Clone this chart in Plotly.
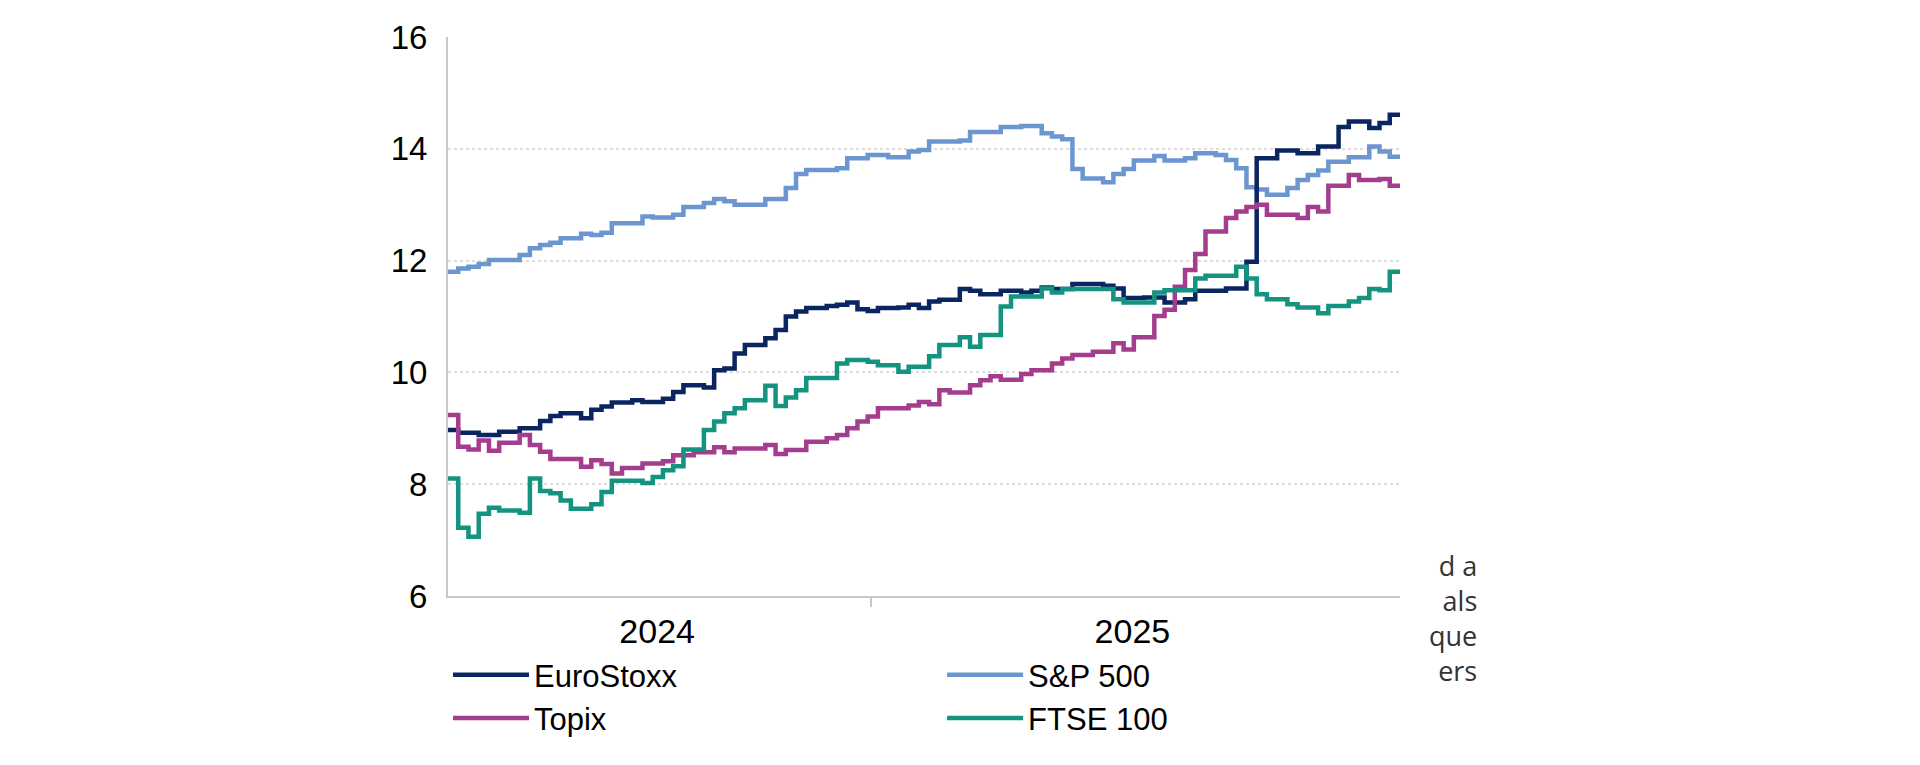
import pandas as pd
import plotly.graph_objects as go

# weekly observations
dates = pd.date_range("2024-03-18", periods=94, freq="7D")

eurostoxx = [8.97, 8.92, 8.92, 8.88, 8.88, 8.94, 8.94, 9.00, 9.00, 9.13,
             9.22, 9.27, 9.27, 9.18, 9.33, 9.39, 9.46, 9.46, 9.50, 9.47,
             9.47, 9.53, 9.65, 9.77, 9.77, 9.73, 10.04, 10.07, 10.34, 10.49,
             10.49, 10.61, 10.76, 11.00, 11.09, 11.15, 11.15, 11.19, 11.21, 11.25,
             11.13, 11.10, 11.15, 11.15, 11.16, 11.21, 11.15, 11.27, 11.30, 11.30,
             11.49, 11.46, 11.40, 11.40, 11.46, 11.46, 11.43, 11.46, 11.52, 11.49,
             11.49, 11.58, 11.58, 11.58, 11.55, 11.50, 11.33, 11.33, 11.34, 11.34,
             11.25, 11.25, 11.31, 11.46, 11.46, 11.46, 11.50, 11.50, 11.98, 13.83,
             13.83, 13.97, 13.97, 13.92, 13.92, 14.04, 14.04, 14.39, 14.49, 14.49,
             14.37, 14.46, 14.61, 14.61]

sp500 = [11.80, 11.86, 11.89, 11.94, 12.01, 12.01, 12.01, 12.10, 12.22, 12.28,
         12.32, 12.40, 12.40, 12.48, 12.46, 12.50, 12.67, 12.67, 12.67, 12.79,
         12.77, 12.77, 12.82, 12.96, 12.96, 13.03, 13.10, 13.06, 13.00, 13.00,
         13.00, 13.10, 13.10, 13.30, 13.55, 13.62, 13.62, 13.62, 13.65, 13.83,
         13.83, 13.89, 13.89, 13.85, 13.85, 13.95, 13.98, 14.13, 14.13, 14.13,
         14.15, 14.30, 14.30, 14.30, 14.39, 14.39, 14.41, 14.41, 14.28, 14.22,
         14.17, 13.64, 13.47, 13.47, 13.40, 13.55, 13.64, 13.79, 13.79, 13.87,
         13.79, 13.79, 13.83, 13.92, 13.92, 13.89, 13.80, 13.65, 13.31, 13.27,
         13.18, 13.18, 13.30, 13.44, 13.53, 13.61, 13.77, 13.77, 13.85, 13.85,
         14.04, 13.95, 13.86, 13.86]

topix = [9.24, 8.67, 8.62, 8.78, 8.60, 8.74, 8.74, 8.88, 8.70, 8.58,
         8.45, 8.45, 8.45, 8.31, 8.43, 8.36, 8.19, 8.29, 8.29, 8.37,
         8.37, 8.41, 8.52, 8.52, 8.57, 8.57, 8.66, 8.57, 8.64, 8.64,
         8.64, 8.70, 8.54, 8.61, 8.61, 8.76, 8.76, 8.82, 8.88, 9.00,
         9.12, 9.21, 9.36, 9.36, 9.36, 9.41, 9.47, 9.43, 9.68, 9.64,
         9.64, 9.77, 9.86, 9.93, 9.87, 9.87, 9.97, 10.04, 10.04, 10.16,
         10.25, 10.31, 10.31, 10.37, 10.37, 10.52, 10.41, 10.63, 10.63, 11.01,
         11.12, 11.53, 11.83, 12.12, 12.52, 12.52, 12.76, 12.88, 12.96, 13.00,
         12.82, 12.82, 12.82, 12.76, 12.96, 12.88, 13.34, 13.34, 13.53, 13.44,
         13.44, 13.46, 13.34, 13.34]

ftse100 = [8.10, 7.22, 7.06, 7.47, 7.58, 7.53, 7.53, 7.49, 8.10, 7.88,
           7.84, 7.71, 7.56, 7.56, 7.64, 7.86, 8.06, 8.06, 8.06, 8.02,
           8.13, 8.25, 8.32, 8.62, 8.62, 8.97, 9.12, 9.27, 9.36, 9.50,
           9.50, 9.76, 9.40, 9.55, 9.68, 9.90, 9.90, 9.90, 10.16, 10.22,
           10.22, 10.19, 10.13, 10.13, 10.01, 10.10, 10.10, 10.29, 10.49, 10.49,
           10.63, 10.46, 10.67, 10.67, 11.18, 11.36, 11.36, 11.36, 11.50, 11.43,
           11.49, 11.49, 11.49, 11.49, 11.49, 11.31, 11.25, 11.25, 11.25, 11.43,
           11.47, 11.47, 11.47, 11.68, 11.73, 11.73, 11.73, 11.89, 11.68, 11.40,
           11.31, 11.31, 11.22, 11.16, 11.16, 11.06, 11.19, 11.19, 11.27, 11.33,
           11.49, 11.47, 11.80, 11.80]

year_labels = ["2024", "2025"]
year_label_pos = ["2024-08-08", "2025-06-29"]
year_boundary = ["2025-01-01"]

side_text = ["d a", "als", "que", "ers"]

FONT = "Liberation Sans, Arial, sans-serif"

series = [
    ("S&P 500", sp500, "#6c96cf", "legend2"),
    ("EuroStoxx", eurostoxx, "#0b2560", "legend"),
    ("Topix", topix, "#a53d8e", "legend"),
    ("FTSE 100", ftse100, "#149380", "legend2"),
]

fig = go.Figure()
for name, vals, color, leg in series:
    fig.add_trace(go.Scatter(
        x=dates, y=vals, name=name, mode="lines",
        line=dict(color=color, width=4.5, shape="hv"),
        legend=leg,
    ))

legend_common = dict(
    orientation="v", font=dict(family=FONT, size=31, color="#000000"),
    bgcolor="rgba(0,0,0,0)", itemwidth=76, tracegroupgap=0,
    xanchor="left", yanchor="top", traceorder="normal",
)

# page body has an 8px default margin, so the figure is sized to fit inside it
fig.update_layout(
    width=1904, height=749,
    margin=dict(l=440, r=512, t=29, b=161),
    paper_bgcolor="white", plot_bgcolor="white",
    showlegend=True,
    legend=dict(x=0.0, y=-0.093, **legend_common),
    legend2=dict(x=0.519, y=-0.093, **legend_common),
    xaxis=dict(
        type="date",
        range=[dates[0], dates[-1]],
        showgrid=False, zeroline=False,
        showline=True, linecolor="#c8c8c8", linewidth=2,
        tickmode="array", tickvals=year_label_pos, ticktext=year_labels,
        ticks="", ticklabelstandoff=4,
        tickfont=dict(family=FONT, size=34, color="#000000"),
        minor=dict(tickmode="array", tickvals=year_boundary, ticks="outside",
                   ticklen=9, tickwidth=2, tickcolor="#c8c8c8", showgrid=False),
    ),
    yaxis=dict(
        range=[6, 16], dtick=2, tick0=6,
        showgrid=True, gridcolor="#dcdcdc", griddash="dot", gridwidth=1.5,
        zeroline=False,
        showline=True, linecolor="#c8c8c8", linewidth=2,
        ticks="", ticklabelstandoff=12,
        tickfont=dict(family=FONT, size=33, color="#000000"),
    ),
)

fig.add_annotation(
    text="<br>".join(side_text), xref="paper", yref="paper", x=1.083, y=-0.04,
    xanchor="right", yanchor="middle", align="right", showarrow=False,
    font=dict(family="Open Sans, sans-serif", size=27, color="#333333"),
)

fig.write_html("out.html")
